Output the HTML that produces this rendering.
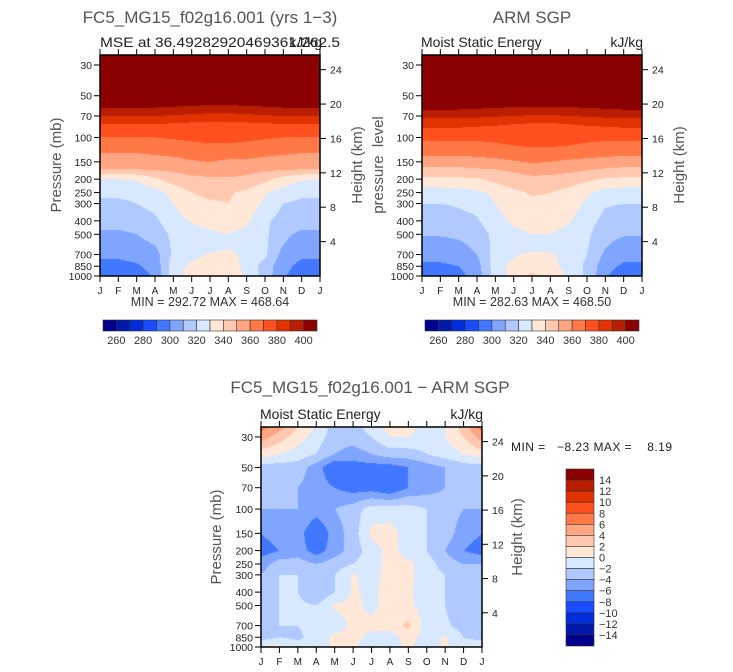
<!DOCTYPE html>
<html><head><meta charset="utf-8">
<style>
html,body{margin:0;padding:0;background:#fff;width:733px;height:672px;overflow:hidden}
#wrap{position:relative;width:733px;height:672px}
canvas{position:absolute}
svg{position:absolute;left:0;top:0}
text{font-family:"Liberation Sans",sans-serif;white-space:pre}
</style></head><body>
<div id="wrap">
<canvas id="c1"></canvas>
<canvas id="c2"></canvas>
<canvas id="c3"></canvas>
<svg id="ov" width="733" height="672"></svg>
</div>
<script>
const months=['J','F','M','A','M','J','J','A','S','O','N','D','J'];
const presTicks=[30,50,70,100,150,200,250,300,400,500,700,850,1000];
const kmTicks=[4,8,12,16,20,24];
const absBarLabels=[260,280,300,320,340,360,380,400];
const diffBarLabels=[14,12,10,8,6,4,2,0,-2,-4,-6,-8,-10,-12,-14];
const palette=[[0,0,140],[0,25,170],[0,45,220],[25,75,255],[65,120,255],[128,165,255],[176,202,255],[215,232,255],[255,232,215],[255,200,175],[255,165,130],[255,120,70],[255,80,30],[225,50,0],[185,30,0],[139,0,0]];

const pres1=[25,50,60,70,80,100,130,150,170,200,250,300,400,500,600,700,850,1000];
const mse1=[
[470,470,470,470,470,470,470,470,470,470,470,470,470],
[420,420,420,420,420,420,420,420,420,420,420,420,420],
[401,401,401,401,400,398,397,397,398,400,401,401,401],
[390,390,390,390,389,388,387,387,388,389,390,390,390],
[380,380,380,380,379,378,377,377,378,379,380,380,380],
[370,370,370,370,371,372,373,373,372,371,370,370,370],
[360,360,360,361,362,364,365,365,364,362,361,360,360],
[355,355,355,356,357,359,360,358,358,357,356,355,355],
[350,350,350,351,352,354,356,355,354,352,351,350,350],
[330,330,331,338,345,348,348,349,347,343,336,331,330],
[322,322,323,326,333,340,342,341,338,331,326,322,322],
[318,318,320,323,330,337,339,340,337,328,320,318,318],
[314,314,315,318,326,331,334,335,332,322,316,314,314],
[308,308,310,315,322,326,328,330,327,322,312,308,308],
[305,305,306,310,322,325,326,328,326,322,310,305,305],
[302,302,303,306,322,327,331,333,327,322,306,302,302],
[297,297,299,303,326,332,336,337,326,316,303,297,297],
[295,295,296,301,326,334,338,339,328,316,301,295,295]];

const pres2=[25,50,62,70,80,100,130,150,170,200,250,300,400,500,600,700,850,1000];
const mse2=[
[470,470,470,470,470,470,470,470,470,470,470,470,470],
[420,420,420,420,420,420,420,420,420,420,420,420,420],
[401,401,401,400,399,397,396,396,397,399,400,401,401],
[393,393,393,392,391,390,389,389,390,391,392,393,393],
[383,383,383,382,381,380,379,379,380,381,382,383,383],
[372,372,372,372,373,374,375,375,374,373,372,372,372],
[362,362,362,363,364,366,367,367,366,364,363,362,362],
[355,355,355,356,357,359,361,360,358,357,356,355,355],
[348,348,348,349,350,352,354,354,353,351,349,348,348],
[338,338,338,339,343,346,348,347,345,342,339,338,338],
[325,325,326,328,332,338,341,340,337,332,326,325,325],
[320,320,321,323,330,336,338,338,335,328,321,320,320],
[316,316,317,319,326,332,335,334,331,324,317,316,316],
[311,311,312,315,323,327,330,330,327,322,313,311,311],
[306,306,308,312,323,325,326,326,325,321,311,306,306],
[304,304,306,310,324,329,332,331,327,320,308,304,304],
[298,298,300,306,325,333,336,334,326,318,304,298,298],
[294,294,297,304,325,334,342,338,328,318,301,294,294]];

const pres3=[25,30,40,50,70,100,150,200,250,300,400,500,700,850,1000];
const diff3=[
[7,5,2,0,-3,-3,-1,1,1,-1,0,3,7],
[5,3,1,-1,-3,-3,-2,0,0,-1,0,2,5],
[1,0,-1,-2,-4,-5,-4,-3,-3,-2,-1,0,1],
[-3,-3,-3,-5,-8,-7,-7,-7,-6,-5,-4,-3,-3],
[-3,-3,-4,-5,-6,-7,-7,-8,-6,-5,-4,-3,-3],
[-4,-4,-4,-5,-4,-3,-1,-1,-1,-2,-3,-4,-4],
[-6,-5,-5,-8,-5,-3,0.5,0.8,-1,-2,-3,-5,-6],
[-7,-6,-5,-7,-5,-3,-1,0.8,-1,-2,-4,-6,-7],
[-5,-3,-3,-4,-3,-2,-1,0.8,0.5,-1,-3,-4,-4],
[-4,-2,-2,-4,-2,0.3,-1,1,0.5,-1,-2,-4,-4],
[-4,-2,-2,-4,-2,0.3,-0.5,1,0.5,-1.5,-2,-4,-4],
[-4,-2,-1.5,-2,0.3,0.5,-0.5,0.8,0.5,-1,-2,-4,-4],
[-4,-2,-2,-1,-1,0.5,0.5,1,2.5,-1,-1.5,-3,-4],
[-3,-2,-2.5,-1,0.5,0.5,-0.5,-1,1,-1,0.3,-2,-3],
[0.5,0.5,-1,-1,0.3,0.3,-1,-1,0.3,-1,0.3,-1,0.5]];

const TOPL=1.405;
function yOfP(P,p){return P.y+(Math.log10(p)-TOPL)/(3-TOPL)*P.h;}
function xOfM(P,m){return P.x+m/12*P.w;}
function yOfKm(P,z){return yOfP(P,1000*Math.exp(-z/7));}
function absIdx(v){return Math.max(0,Math.min(15,Math.floor((v-250)/10)));}
function diffIdx(v){return Math.max(0,Math.min(15,Math.floor(v/2)+8));}

function fill(id,P,pres,grid,idxFn){
  const c=document.getElementById(id);
  c.width=P.w;c.height=P.h;c.style.left=P.x+'px';c.style.top=P.y+'px';
  const ctx=c.getContext('2d');const img=ctx.createImageData(P.w,P.h);
  const lp=pres.map(p=>Math.log10(p));
  for(let py=0;py<P.h;py++){
    const l=TOPL+(py+0.5)/P.h*(3-TOPL);
    let r=0;while(r<lp.length-2&&l>lp[r+1])r++;
    let fr=(l-lp[r])/(lp[r+1]-lp[r]);fr=Math.max(0,Math.min(1,fr));
    for(let px=0;px<P.w;px++){
      const m=(px+0.5)/P.w*12;let k=Math.min(11,Math.floor(m));const fm=m-k;
      const v=(grid[r][k]*(1-fm)+grid[r][k+1]*fm)*(1-fr)+(grid[r+1][k]*(1-fm)+grid[r+1][k+1]*fm)*fr;
      const col=palette[idxFn(v)];const o=(py*P.w+px)*4;
      img.data[o]=col[0];img.data[o+1]=col[1];img.data[o+2]=col[2];img.data[o+3]=255;
    }
  }
  ctx.putImageData(img,0,0);
}
const P1={x:100,y:55,w:220,h:221},P2={x:422,y:55,w:220,h:221},P3={x:261,y:427,w:221,h:220};
fill('c1',P1,pres1,mse1,absIdx);
fill('c2',P2,pres2,mse2,absIdx);
fill('c3',P3,pres3,diff3,diffIdx);

const svg=document.getElementById('ov');const NS='http://www.w3.org/2000/svg';
function el(tag,attrs,txt){const e=document.createElementNS(NS,tag);for(const k in attrs)e.setAttribute(k,attrs[k]);if(txt!==undefined)e.textContent=txt;svg.appendChild(e);return e;}
function txt(x,y,s,size,anchor,fill,name,extra){const e=el('text',Object.assign({x:x,y:y,'font-size':size,'text-anchor':anchor||'start',fill:fill||'#222'},extra||{}),s);

return e;}

function axes(P,tag){
  const fr=el('rect',{x:P.x,y:P.y,width:P.w,height:P.h,fill:'none',stroke:'#000','stroke-width':1.5});
  
  
  months.forEach((mo,i)=>{const x=xOfM(P,i);
    el('line',{x1:x,y1:P.y+P.h,x2:x,y2:P.y+P.h+6,stroke:'#000'});
    el('line',{x1:x,y1:P.y,x2:x,y2:P.y-6,stroke:'#000'});
    txt(x,P.y+P.h+18,mo,10,'middle','#222',tag+'-month-label');});
  presTicks.forEach(p=>{const y=yOfP(P,p);
    el('line',{x1:P.x-6,y1:y,x2:P.x,y2:y,stroke:'#000'});
    txt(P.x-8,y+4,String(p),10.5,'end','#222',tag+'-pressure-tick-label');});
  kmTicks.forEach(z=>{const y=yOfKm(P,z);
    el('line',{x1:P.x+P.w,y1:y,x2:P.x+P.w+6,y2:y,stroke:'#000'});
    txt(P.x+P.w+10,y+4,String(z),10.5,'start','#222',tag+'-height-tick-label');});
}
axes(P1,'panel1');axes(P2,'panel2');axes(P3,'panel3');

function hbar(x0,y0,w,h,tag){
  const bw=w/16;
  palette.forEach((c,i)=>{const r=el('rect',{x:x0+i*bw,y:y0,width:bw,height:h,fill:'rgb('+c.join(',')+')',stroke:'#333','stroke-width':0.6});
    
    });
  absBarLabels.forEach((v,i)=>{txt(x0+(1+2*i)*bw,y0+h+13,String(v),11,'middle','#333',tag+'-colorbar-label');});
}
hbar(103,320,214,11,'panel1');hbar(425,320,214,11,'panel2');
(function(){const x0=566,y0=469,w=28,h=177,bh=h/16;
  for(let i=0;i<16;i++){const c=palette[15-i];const r=el('rect',{x:x0,y:y0+i*bh,width:w,height:bh,fill:'rgb('+c.join(',')+')',stroke:'#333','stroke-width':0.6});
    
    }
  diffBarLabels.forEach((v,i)=>{txt(x0+w+5,y0+(i+1)*bh+4,(v<0?'\u2212':'')+Math.abs(v),11,'start','#333','panel3-colorbar-label');});
})();

const G='#555';
txt(210,23,'FC5_MG15_f02g16.001 (yrs 1\u22123)',17,'middle',G,'panel1-title');
txt(100,47,'MSE at 36.49282920469361/262.5',14,'start','#222','panel1-subtitle',{textLength:240,lengthAdjust:'spacingAndGlyphs'});
txt(322,47,'kJ/kg',14,'end','#222','panel1-units');
txt(210,306,'MIN = 292.72 MAX = 468.64',12.5,'middle','#333','panel1-min-max');
txt(532,23,'ARM SGP',17,'middle',G,'panel2-title');
txt(421,47,'Moist Static Energy',14,'start','#222','panel2-subtitle');
txt(643,47,'kJ/kg',14,'end','#222','panel2-units');
txt(532,306,'MIN = 282.63 MAX = 468.50',12.5,'middle','#333','panel2-min-max');
txt(370,393,'FC5_MG15_f02g16.001 \u2212 ARM SGP',17,'middle',G,'panel3-title');
txt(260,419,'Moist Static Energy',14,'start','#222','panel3-subtitle');
txt(483,419,'kJ/kg',14,'end','#222','panel3-units');
txt(511,451,'MIN =   \u22128.23 MAX =    8.19',12,'start','#222','panel3-min-max',{textLength:161,lengthAdjust:'spacing'});
function vt(x,y,s,name){txt(x,y,s,15,'middle',G,name,{transform:'rotate(-90 '+x+' '+y+')'});}
vt(61,165,'Pressure (mb)','panel1-y-axis-title');
vt(362,165,'Height (km)','panel1-right-axis-title');
vt(383,165,'pressure  level','panel2-y-axis-title');
vt(684,165,'Height (km)','panel2-right-axis-title');
vt(221,537,'Pressure (mb)','panel3-y-axis-title');
vt(522,537,'Height (km)','panel3-right-axis-title');
</script>
</body></html>
